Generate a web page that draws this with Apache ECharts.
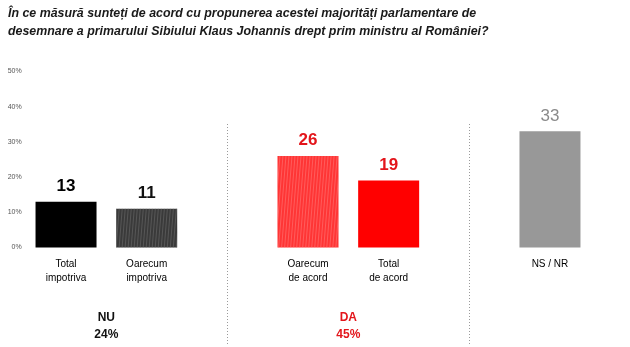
<!DOCTYPE html>
<html><head><meta charset="utf-8">
<script src="https://cdn.jsdelivr.net/npm/echarts@6/dist/echarts.min.js"></script>
<style>html,body{margin:0;padding:0;background:#fff}#c{width:630px;height:347px}</style>
</head><body><div id="c"></div>
<script>
const titleText = 'În ce măsură sunteți de acord cu propunerea acestei majorități parlamentare de\ndesemnare a primarului Sibiului Klaus Johannis drept prim ministru al României?';
const categories = ['Total\nimpotriva', 'Oarecum\nimpotriva', 'Oarecum\nde acord', 'Total\nde acord', 'NS / NR'];
const values = [13, 11, 26, 19, 33];
const yTicks = [0, 10, 20, 30, 40, 50];
const groupNames = ['NU', 'DA'];
const groupTotals = ['24%', '45%'];
const groupMembers = [[0, 1], [2, 3]];
// layout: a blank slot is inserted after these category indices (dividers sit there)
const gapAfter = [1, 3];

const FONT = '"Liberation Sans", Arial, sans-serif';
const barColors = ['#000000', '#3a3a3a', '#ff3535', '#ff0000', '#989898'];
const labelColors = ['#000000', '#111111', '#e3151b', '#e3151b', '#8a8a8a'];
const decals = [null,
  {symbol: 'rect', color: 'rgba(110,110,110,0.55)', dashArrayX: [1, 2], dashArrayY: [8, 0], rotation: 0.08, symbolSize: 1},
  {symbol: 'rect', color: 'rgba(255,130,130,0.5)', dashArrayX: [1, 2], dashArrayY: [8, 0], rotation: 0.08, symbolSize: 1},
  null, null];
const groupColors = ['#111111', '#e3151b'];

// build slots
const slotCats = [], slotVals = [], slotIdx = [], dividerSlots = [];
categories.forEach((c, i) => {
  slotIdx[i] = slotCats.length;
  slotCats.push(c);
  slotVals.push({
    value: values[i],
    itemStyle: Object.assign({color: barColors[i]}, decals[i] ? {decal: decals[i]} : {}),
    label: {color: labelColors[i], fontWeight: i === 4 ? 'normal' : 'bold'}
  });
  if (gapAfter.includes(i)) {
    dividerSlots.push(slotCats.length);
    slotCats.push('');
    slotVals.push('-');
  }
});

const chart = echarts.init(document.getElementById('c'), null, {renderer: 'canvas'});
chart.setOption({
  animation: false,
  backgroundColor: '#fff',
  title: {
    text: titleText, left: 3, top: 0,
    textStyle: {fontFamily: FONT, fontSize: 12.4, fontStyle: 'italic', fontWeight: 'bold', color: '#1a1a1a', lineHeight: 18}
  },
  grid: {left: 25.7, right: 39.7, top: 71.5, bottom: 99.5},
  xAxis: {
    type: 'category', data: slotCats,
    axisLine: {show: false}, axisTick: {show: false},
    axisLabel: {interval: 0, margin: 10, fontFamily: FONT, fontSize: 10, color: '#000', lineHeight: 13.5}
  },
  yAxis: {
    type: 'value', min: 0, max: 50, interval: 10,
    axisLine: {show: false}, axisTick: {show: false}, splitLine: {show: false},
    axisLabel: {formatter: v => yTicks.includes(v) ? v + '%' : '', fontFamily: FONT, fontSize: 7, color: '#555', margin: 4}
  },
  series: [{
    type: 'bar', data: slotVals, barWidth: 61,
    label: {show: true, position: 'top', distance: 7, fontFamily: FONT, fontSize: 17}
  }]
});

function addGraphics() {
  const els = [];
  dividerSlots.forEach(s => {
    const x = Math.round(chart.convertToPixel({xAxisIndex: 0}, s)) + 0.5;
    els.push({type: 'line', shape: {x1: x, y1: 124, x2: x, y2: 346},
      style: {stroke: '#9a9a9a', lineWidth: 1, lineDash: [1, 2]}});
  });
  groupMembers.forEach((m, g) => {
    const xa = chart.convertToPixel({xAxisIndex: 0}, slotIdx[m[0]]);
    const xb = chart.convertToPixel({xAxisIndex: 0}, slotIdx[m[m.length - 1]]);
    const cx = (xa + xb) / 2;
    els.push({type: 'text', x: cx, y: 318, style: {text: groupNames[g], fill: groupColors[g], font: 'bold 12px ' + FONT, align: 'center', verticalAlign: 'middle'}});
    els.push({type: 'text', x: cx, y: 335, style: {text: groupTotals[g], fill: groupColors[g], font: 'bold 12px ' + FONT, align: 'center', verticalAlign: 'middle'}});
  });
  chart.setOption({graphic: els});
}
addGraphics();
</script></body></html>
